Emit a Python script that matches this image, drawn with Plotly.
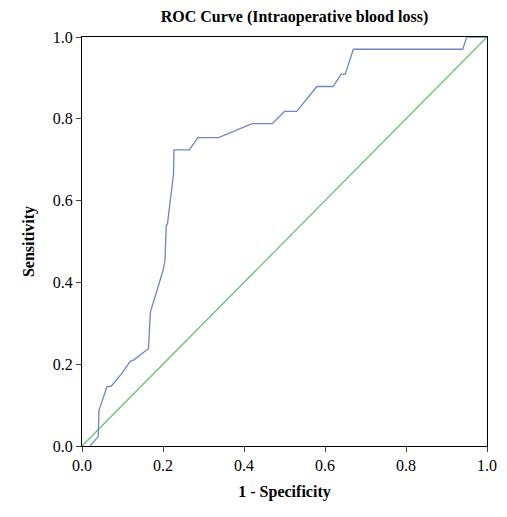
import plotly.graph_objects as go

fpr = [0.02, 0.04, 0.042, 0.062, 0.072, 0.098, 0.119, 0.127, 0.164, 0.169, 0.2, 0.205, 0.208,
       0.211, 0.226, 0.227, 0.265, 0.286, 0.337, 0.42, 0.47, 0.50, 0.53, 0.58, 0.62, 0.64,
       0.65, 0.67, 0.94, 0.95, 1.0]
tpr = [0.0, 0.023, 0.088, 0.146, 0.146, 0.177, 0.207, 0.21, 0.238, 0.328, 0.429, 0.454, 0.539,
       0.543, 0.665, 0.724, 0.724, 0.754, 0.754, 0.788, 0.788, 0.818, 0.818, 0.879, 0.879, 0.909,
       0.909, 0.97, 0.97, 1.0, 1.0]
ref = [0, 1]
tick_vals = [0, 0.2, 0.4, 0.6, 0.8, 1.0]
tick_text = ["0.0", "0.2", "0.4", "0.6", "0.8", "1.0"]

fig = go.Figure()
fig.add_trace(go.Scatter(x=ref, y=ref, mode="lines", line=dict(color="#6cc07a", width=1.3)))
fig.add_trace(go.Scatter(x=fpr, y=tpr, mode="lines", line=dict(color="#6f86c8", width=1.3)))

ax = dict(range=[0, 1], tickvals=tick_vals, ticktext=tick_text, showgrid=False, zeroline=False,
          ticks="outside", ticklen=5, showline=True, linecolor="black", linewidth=1,
          mirror=True, tickfont=dict(size=16), automargin=False)
fig.update_layout(
    width=507, height=517, margin=dict(l=74, r=28, t=29, b=79),
    plot_bgcolor="white", paper_bgcolor="white", showlegend=False,
    font=dict(family="Liberation Serif", color="black"),
    title=dict(text="<b>ROC Curve (Intraoperative blood loss)</b>", x=0.565, xanchor="center",
               y=0.995, yanchor="top", font=dict(size=16)),
    xaxis=dict(ax, title=dict(text="<b>1 - Specificity</b>", standoff=12, font=dict(size=16))),
    yaxis=dict(ax, title=dict(text="<b>Sensitivity</b>", standoff=14, font=dict(size=16))),
)
fig.write_html("out.html")
